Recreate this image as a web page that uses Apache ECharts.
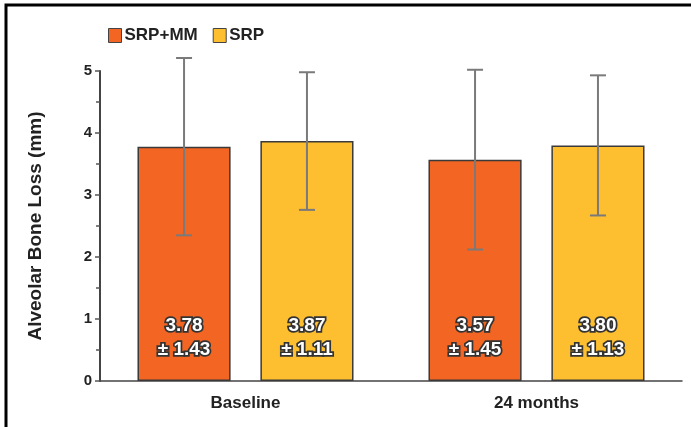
<!DOCTYPE html>
<html>
<head>
<meta charset="utf-8">
<script src="https://cdn.jsdelivr.net/npm/echarts@6/dist/echarts.min.js"></script>
<style>html,body{margin:0;padding:0;background:#fff}#c{width:691px;height:427px}</style>
</head>
<body>
<div id="c"></div>
<script>
var categories = ['Baseline', '24 months'];
var seriesNames = ['SRP+MM', 'SRP'];
var srpmmMean = [3.78, 3.57];
var srpmmSD = [1.43, 1.45];
var srpMean = [3.87, 3.80];
var srpSD = [1.11, 1.13];
var yTicks = [0, 1, 2, 3, 4, 5];

var colors = ['#F26522', '#FDBE30'];
var BW = 0.32, GAP = 0.32;
var font = '"Liberation Sans", Arial, Helvetica, sans-serif';

function errSeries(means, sds, sign) {
  return {
    type: 'custom',
    silent: true,
    z: 5,
    data: means.map(function (m, i) { return [i, m - sds[i], m + sds[i]]; }),
    encode: { x: 0, y: [1, 2] },
    renderItem: function (params, api) {
      var ci = api.value(0);
      var lo = api.coord([ci, api.value(1)]);
      var hi = api.coord([ci, api.value(2)]);
      var band = api.size([1, 0])[0];
      var off = sign * band * BW * (1 + GAP) / 2;
      var x = lo[0] + off;
      var cap = 8;
      var st = { stroke: '#7a7a7a', lineWidth: 2 };
      return {
        type: 'group',
        children: [
          { type: 'line', shape: { x1: x, y1: lo[1], x2: x, y2: hi[1] }, style: st },
          { type: 'line', shape: { x1: x - cap, y1: hi[1], x2: x + cap, y2: hi[1] }, style: st },
          { type: 'line', shape: { x1: x - cap, y1: lo[1], x2: x + cap, y2: lo[1] }, style: st }
        ]
      };
    }
  };
}

function barSeries(name, means, sds, color) {
  return {
    name: name,
    type: 'bar',
    barWidth: (BW * 100) + '%',
    barGap: (GAP * 100) + '%',
    z: 2,
    itemStyle: { color: color, borderColor: '#3a3a3a', borderWidth: 1.5 },
    data: means,
    label: {
      show: true,
      position: 'insideBottom',
      distance: 19,
      formatter: function (p) { return p.value.toFixed(2) + '\n± ' + sds[p.dataIndex].toFixed(2); },
      color: '#fff',
      fontFamily: font,
      fontWeight: 'bold',
      fontSize: 19,
      lineHeight: 24,
      textBorderColor: '#333',
      textBorderWidth: 3.5
    }
  };
}

var chart = echarts.init(document.getElementById('c'));
chart.setOption({
  animation: false,
  backgroundColor: '#fff',
  textStyle: { fontFamily: font },
  graphic: [{
    type: 'polyline',
    shape: { points: [[6, 427], [6, 5], [691, 5]] },
    style: { stroke: '#000', lineWidth: 3, fill: null }
  }],
  legend: {
    left: 103,
    top: 22,
    icon: 'rect',
    itemWidth: 13,
    itemHeight: 14,
    itemGap: 15,
    data: seriesNames.map(function (n, i) {
      return { name: n, itemStyle: { color: colors[i], borderColor: '#444', borderWidth: 1 } };
    }),
    textStyle: { fontFamily: font, fontWeight: 'bold', fontSize: 17, color: '#222', padding: [0, 0, 0, -2] }
  },
  grid: { left: 100, right: 9, top: 71, bottom: 46 },
  xAxis: {
    type: 'category',
    data: categories,
    axisLine: { show: true, lineStyle: { color: '#444', width: 1.5 } },
    axisTick: { show: false },
    axisLabel: { fontFamily: font, fontWeight: 'bold', fontSize: 17, color: '#222', margin: 14 }
  },
  yAxis: {
    type: 'value',
    min: yTicks[0],
    max: yTicks[yTicks.length - 1],
    interval: 1,
    name: 'Alveolar Bone Loss (mm)',
    nameLocation: 'middle',
    nameGap: 55,
    nameTextStyle: { fontFamily: font, fontWeight: 'bold', fontSize: 19, color: '#222' },
    axisLine: { show: true, onZero: false, lineStyle: { color: '#444', width: 2 } },
    axisTick: { show: true, length: 5, lineStyle: { color: '#555', width: 1.5 } },
    minorTick: { show: true, splitNumber: 2, length: 4, lineStyle: { color: '#555', width: 1.5 } },
    splitLine: { show: false },
    axisLabel: { fontFamily: font, fontWeight: 'bold', fontSize: 15, color: '#222', margin: 8 }
  },
  series: [
    barSeries(seriesNames[0], srpmmMean, srpmmSD, colors[0]),
    barSeries(seriesNames[1], srpMean, srpSD, colors[1]),
    errSeries(srpmmMean, srpmmSD, -1),
    errSeries(srpMean, srpSD, 1)
  ]
});
</script>
</body>
</html>
